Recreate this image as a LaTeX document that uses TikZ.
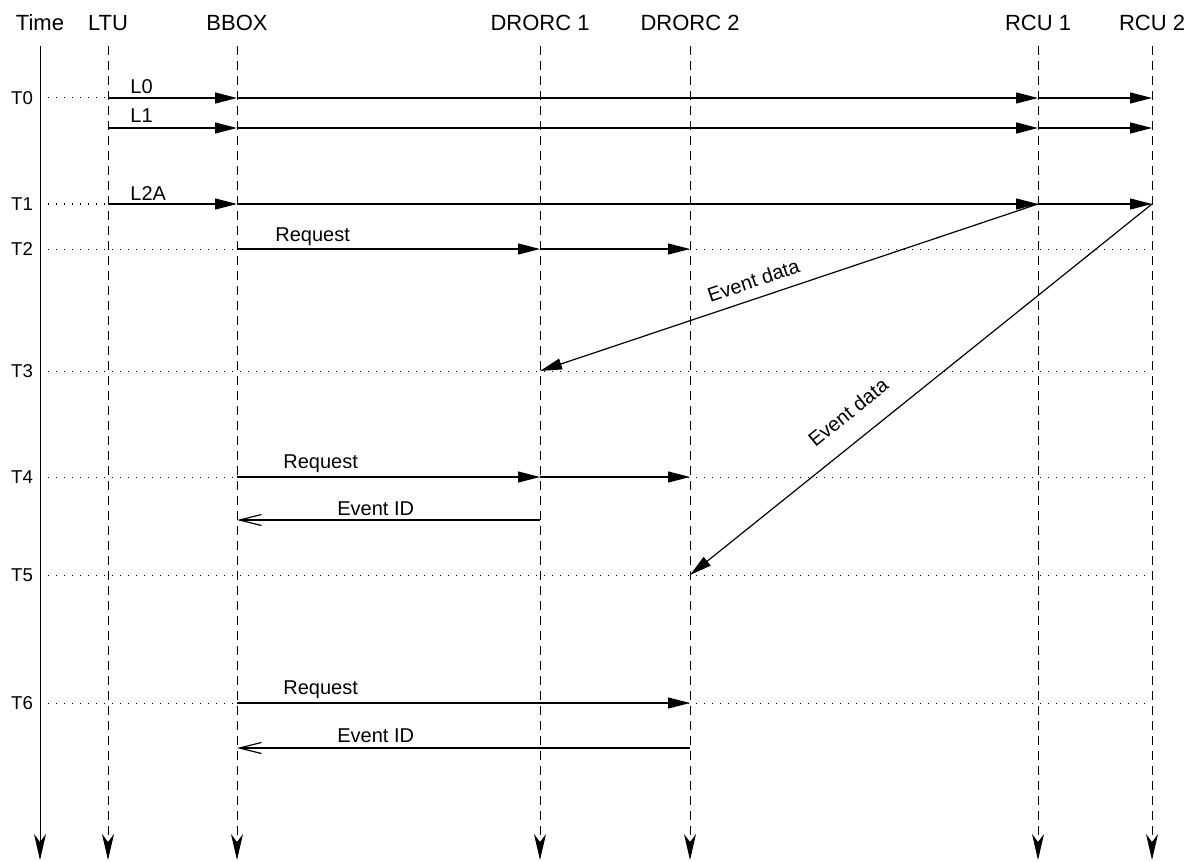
\documentclass[tikz,border=0pt]{standalone}
\usepackage{fontspec}
\setmainfont{Liberation Sans}
\usetikzlibrary{arrows.meta}

\begin{document}
\begin{tikzpicture}[x=0.5pt, y=-0.5pt,
    every node/.style={inner sep=0pt, font=\fontsize{9.3}{11}\selectfont},
    head/.style={anchor=base, font=\fontsize{11}{13}\selectfont},
    lbl/.style={anchor=base west, font=\fontsize{10}{12}\selectfont},
    life/.style={line width=0.5pt, dash pattern=on 4.5pt off 3pt,
      -{Stealth[length=13pt,width=6pt,inset=4pt]}},
    tick/.style={line width=0.5pt, dash pattern=on 0.5pt off 3.5pt},
    msg/.style={line width=0.6pt, -{Triangle[length=11pt,width=5.5pt]}},
    reply/.style={line width=0.6pt, -{Straight Barb[length=11pt,width=5.5pt]}}]
  \useasboundingbox (0,0) rectangle (1197,861);

  % participants
  \node[head] (time) at (40,31) {Time};
  \node[head] (ltu) at (108,31) {LTU};
  \node[head] (bbox) at (237,31) {BBOX};
  \node[head] (drorc1) at (540,31) {DRORC 1};
  \node[head] (drorc2) at (690,31) {DRORC 2};
  \node[head] (rcu1) at (1038,31) {RCU 1};
  \node[head] (rcu2) at (1152,31) {RCU 2};

  % time marks
  \foreach \n/\y in {0/98,1/204,2/249,3/371,4/477,5/575,6/703}
    \node (t\n) at (22,\y) {T\n};
  \coordinate (l1) at (22,128);
  \coordinate (id1) at (22,520);
  \coordinate (id2) at (22,748);
  \coordinate (top) at (0,46);
  \coordinate (bot) at (0,860);

  \foreach \n in {0,...,6}
    \draw[tick] (time |- t\n) -- (rcu2 |- t\n);

  % lifelines
  \draw[life, dash pattern=] (time |- top) -- (time |- bot);
  \foreach \p in {ltu,bbox,drorc1,drorc2,rcu1,rcu2}
    \draw[life] (\p |- top) -- (\p |- bot);

  % triggers
  \foreach \r in {t0,l1,t1} {
    \draw[msg] (ltu |- \r) -- (bbox |- \r);
    \draw[msg] (bbox |- \r) -- (rcu1 |- \r);
    \draw[msg] (rcu1 |- \r) -- (rcu2 |- \r);
  }
  \node[lbl] (l0txt) at (130,94) {L0};
  \node[lbl] (l1txt) at (130,123) {L1};
  \node[lbl] (l2atxt) at (130,200) {L2A};

  % readout
  \draw[msg] (bbox |- t2) -- (drorc1 |- t2);
  \draw[msg] (drorc1 |- t2) -- (drorc2 |- t2);
  \node[lbl] (req1) at (275,242) {Request};

  \draw[msg] (rcu1 |- t1) -- node[sloped, anchor=south, above=5pt, pos=0.56, font=\fontsize{10}{12}\selectfont] (data1) {Event data} (drorc1 |- t3);
  \draw[msg] (rcu2 |- t1) -- node[sloped, anchor=south, above=10pt, pos=0.62, font=\fontsize{10}{12}\selectfont] (data2) {Event data} (drorc2 |- t5);

  \draw[msg] (bbox |- t4) -- (drorc1 |- t4);
  \draw[msg] (drorc1 |- t4) -- (drorc2 |- t4);
  \node[lbl] (req2) at (283,468) {Request};
  \draw[reply] (drorc1 |- id1) -- (bbox |- id1);
  \node[lbl] (evid1) at (337,515) {Event ID};

  \draw[msg] (bbox |- t6) -- (drorc2 |- t6);
  \node[lbl] (req3) at (283,694) {Request};
  \draw[reply] (drorc2 |- id2) -- (bbox |- id2);
  \node[lbl] (evid2) at (337,742) {Event ID};
\end{tikzpicture}
\end{document}
